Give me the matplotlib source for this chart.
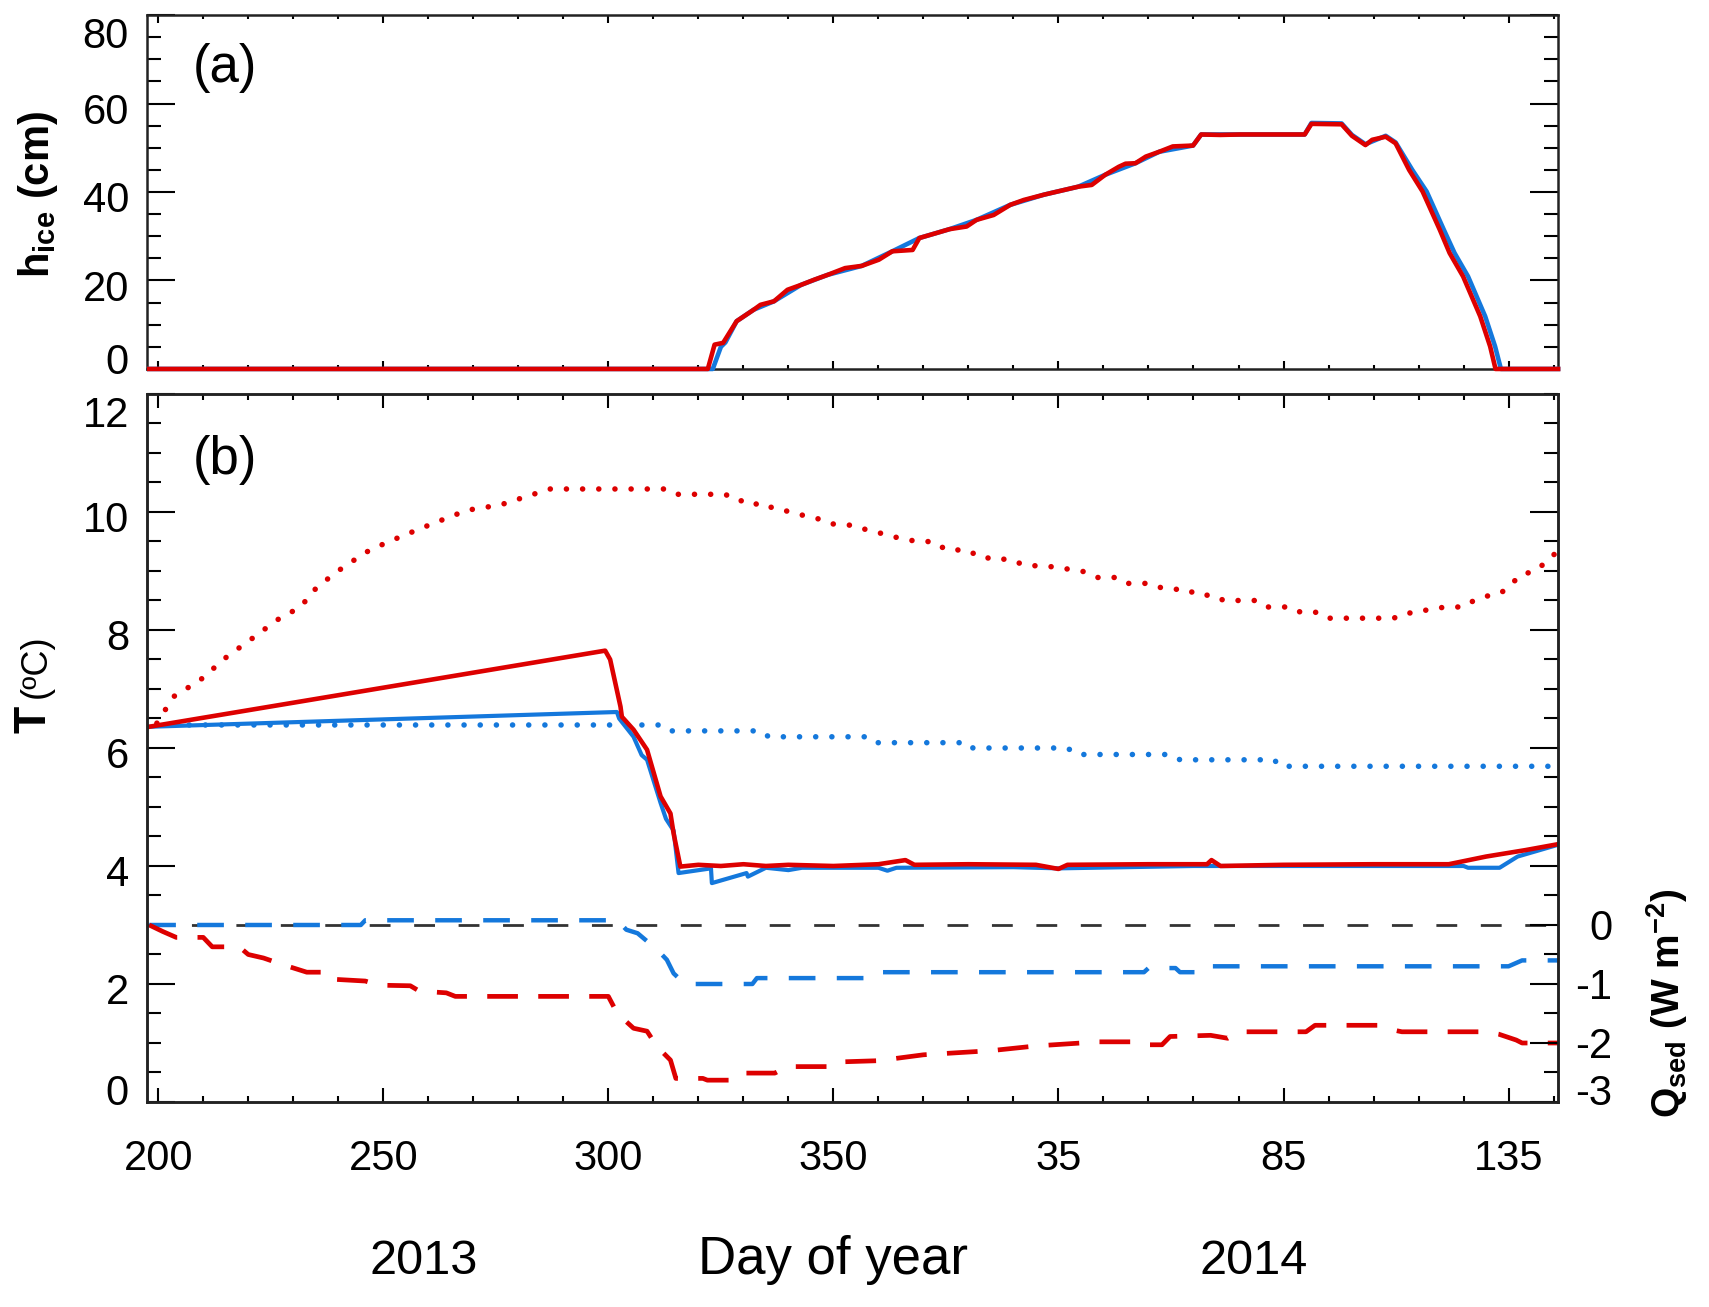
import numpy as np
import matplotlib
matplotlib.use("agg")
from matplotlib import pyplot as plt
from matplotlib.ticker import FixedLocator, MultipleLocator
from matplotlib.transforms import ScaledTranslation

plt.rcParams['font.family'] = ['Liberation Sans', 'DejaVu Sans']
plt.rcParams['mathtext.fontset'] = 'custom'
plt.rcParams['mathtext.rm'] = 'Liberation Sans'
plt.rcParams['mathtext.bf'] = 'Liberation Sans:bold'
plt.rcParams['mathtext.it'] = 'Liberation Sans:italic'

RED = '#DD0000'
BLUE = '#1478DC'

# day axis: continuous days since 1 Jan 2013 (2014 days = doy + 365)
x_ticks = [200, 250, 300, 350, 400, 450, 500]
x_labels = ['200', '250', '300', '350', '35', '85', '135']

# (a) ice thickness (cm)
ice_red_day = [198, 322.1, 323.6, 325.5, 328.5, 332.3, 333.8, 336.8, 339.8, 342.8, 345.8, 348.8,
               352.6, 356.3, 360.1, 363.1, 367.6, 369.1, 372.8, 375.8, 379.6, 381.8, 385.6, 389.3,
               392.3, 396.8, 400.6, 404.4, 407.4, 410.4, 413.4, 414.9, 417.1, 419.4, 422.4, 425.4,
               429.9, 431.7, 435.9, 440.4, 454.7, 456.2, 462.9, 465.2, 468.2, 469.7, 472.7, 474.9,
               477.9, 480.9, 484.7, 486.9, 489.9, 493.7, 495.9, 497.1, 511]
ice_red = [0, 0, 5.5, 5.9, 10.8, 13.4, 14.5, 15.3, 17.9, 19.0, 20.2, 21.3,
           22.8, 23.3, 24.7, 26.6, 26.9, 29.6, 30.7, 31.6, 32.2, 33.7, 34.8, 37.1,
           38.2, 39.4, 40.3, 41.2, 41.6, 43.9, 45.7, 46.4, 46.5, 48.0, 49.1, 50.3,
           50.5, 53.0, 52.9, 53.0, 53.0, 55.4, 55.3, 52.7, 50.6, 51.8, 52.5, 51.0,
           45.0, 40.1, 31.5, 26.2, 20.9, 11.9, 5.1, 0, 0]
ice_blue_day = [198, 323.2, 325.0, 326.0, 328.5, 332.3, 336.8, 342.8, 348.8, 356.3, 363.1, 369.1,
                375.8, 381.8, 389.3, 396.8, 404.4, 410.4, 417.1, 422.4, 429.9, 431.7, 454.7, 456.2,
                462.9, 465.2, 468.2, 472.7, 474.9, 478.6, 481.8, 485.6, 488.0, 491.0, 494.8, 497.0,
                498.3, 511]
ice_blue = [0, 0, 5.0, 6.0, 10.8, 13.4, 15.3, 19.0, 21.3, 23.3, 26.6, 29.6,
            31.6, 33.7, 37.1, 39.4, 41.2, 43.9, 46.5, 49.1, 50.5, 53.0, 53.0, 55.6,
            55.5, 52.9, 50.8, 52.7, 51.2, 45.0, 40.1, 31.5, 26.2, 20.9, 11.9, 5.1,
            0, 0]

# (b) temperatures (deg C)
t_red_day = [198, 299.3, 300.4, 302.7, 303.0, 305.6, 308.6, 311.6, 313.8, 314.5, 316.0, 320, 325,
             330, 335, 340, 350, 360, 366, 368, 380, 395, 400, 402, 420, 433, 434, 436, 450, 470,
             486.7, 495, 503.8, 511]
t_red = [6.36, 7.65, 7.5, 6.7, 6.53, 6.31, 5.97, 5.18, 4.89, 4.55, 3.99, 4.02, 4.0,
         4.03, 4.0, 4.02, 4.0, 4.03, 4.1, 4.02, 4.03, 4.02, 3.95, 4.02, 4.03, 4.03, 4.1, 4.0, 4.02, 4.03,
         4.03, 4.16, 4.27, 4.37]
t_blue_day = [198, 301.9, 302.4, 305.6, 307.4, 308.6, 311.6, 312.8, 314.5, 315.6, 322.8, 323.0,
              330.7, 331.0, 335, 340, 343, 360, 362, 364, 390, 400, 430, 490, 491, 498, 502, 511]
t_blue = [6.36, 6.61, 6.5, 6.19, 5.88, 5.8, 5.07, 4.8, 4.6, 3.88, 3.96, 3.71,
          3.88, 3.82, 3.97, 3.93, 3.97, 3.97, 3.92, 3.97, 3.98, 3.96, 4.0, 4.0, 3.97, 3.97, 4.16, 4.36]
tb_red_day = [199.7, 203.4, 209.3, 215.3, 220.4, 226.4, 231.6, 235.3, 241.2, 247.1, 253.8, 261.2,
              268.6, 276, 287, 313, 315.3, 326, 328.4, 332, 333.7, 337.2, 340.6, 343.5, 346.4,
              349.4, 354.9, 357.6, 360.5, 363.4, 366.4, 368.8, 371, 373, 376.7, 378.9, 382.6,
              384.8, 389.3, 392.3, 399, 405.6, 408.6, 413, 415.3, 420, 422, 424.9, 428.6, 430.8,
              434.5, 436.7, 444.2, 446.4, 451.6, 453.8, 457.5, 459.7, 474.5, 476.7, 480, 482.7,
              486.4, 490, 492.3, 494.9, 498.2, 500.8, 502.7, 505.6, 507.5, 510.4]
tb_red = [6.42, 6.87, 7.15, 7.55, 7.83, 8.17, 8.39, 8.73, 9.07, 9.36, 9.58, 9.81,
          10.03, 10.12, 10.39, 10.39, 10.3, 10.3, 10.19, 10.19, 10.08, 10.08, 9.99, 9.94, 9.89,
          9.8, 9.77, 9.69, 9.64, 9.58, 9.53, 9.5, 9.5, 9.4, 9.4, 9.3, 9.3,
          9.2, 9.2, 9.1, 9.07, 8.99, 8.89, 8.89, 8.79, 8.79, 8.73, 8.69, 8.69, 8.59,
          8.59, 8.5, 8.5, 8.39, 8.39, 8.3, 8.3, 8.2, 8.2, 8.28, 8.3, 8.36,
          8.39, 8.39, 8.5, 8.57, 8.62, 8.79, 8.94, 8.99, 9.1, 9.3]
tb_blue_day = [199.7, 312, 313.8, 334, 335.6, 357, 358.6, 380, 381, 402, 404, 425, 427, 448, 449, 511]
tb_blue = [6.39, 6.39, 6.29, 6.29, 6.19, 6.19, 6.09, 6.09, 6.0, 6.0, 5.89, 5.89, 5.8, 5.8, 5.69, 5.69]

# sediment heat flux (W m-2), right axis
q_blue_day = [198, 245, 246, 302, 304, 306.5, 309, 311.5, 313, 314.5, 317, 332, 333, 358, 360,
              419, 420, 426, 427, 433, 434, 500, 503, 511]
q_blue = [0.0, 0.0, 0.08, 0.08, -0.08, -0.14, -0.3, -0.47, -0.59, -0.82, -1.0, -1.0, -0.9, -0.9, -0.8,
          -0.8, -0.73, -0.73, -0.8, -0.8, -0.7, -0.7, -0.6, -0.6]
q_red_day = [198, 201, 204, 210, 212, 218, 220, 223.4, 228, 233, 238, 239, 246, 249, 256, 258, 264,
             266, 300, 302, 305.6, 308.6, 310.8, 313.8, 315, 321, 322, 327, 329, 337, 339.7, 350,
             351.6, 360, 370, 385, 395, 409, 418, 420, 423, 424.8, 433.8, 437.6, 440.3, 455, 457,
             471, 474.4, 476.3, 495, 497.8, 501.7, 503, 511]
q_red = [0.0, -0.11, -0.21, -0.21, -0.37, -0.37, -0.5, -0.56, -0.68, -0.8, -0.8, -0.92, -0.95,
         -1.02, -1.03, -1.12, -1.15, -1.21, -1.21, -1.5, -1.75, -1.8, -2.06, -2.29, -2.6, -2.6,
         -2.63, -2.63, -2.51, -2.51, -2.4, -2.4, -2.32, -2.3, -2.2, -2.13, -2.05, -1.98, -1.98,
         -2.03, -2.03, -1.89, -1.87, -1.92, -1.81, -1.81, -1.7, -1.7, -1.78, -1.81, -1.81, -1.85,
         -1.95, -2.0, -2.0]

fig = plt.figure(figsize=(17.09, 13.07), dpi=100)
axa = fig.add_axes([0.0860, 0.7177, 0.8257, 0.2708])
axb = fig.add_axes([0.0860, 0.15685, 0.8257, 0.5417])

xlim = (197.5, 511)
for ax in (axa, axb):
    ax.set_xlim(*xlim)
    for s in ax.spines.values():
        s.set_linewidth(1.8)
        s.set_color('#222222')
    ax.xaxis.set_major_locator(FixedLocator(x_ticks))
    ax.xaxis.set_minor_locator(MultipleLocator(10))

# panel (a)
axa.plot(ice_blue_day, ice_blue, color=BLUE, lw=3.3, clip_on=False, zorder=3)
axa.plot(ice_red_day, ice_red, color=RED, lw=3.3, clip_on=False, zorder=4)
axa.set_ylim(0, 80)
axa.yaxis.set_major_locator(MultipleLocator(20))
axa.yaxis.set_minor_locator(MultipleLocator(5))
axa.set_xticklabels([])
axa.tick_params(axis='x', which='major', direction='in', length=6, width=1.5, top=True)
axa.tick_params(axis='x', which='minor', direction='in', length=3, width=1.5, top=True)
axa.tick_params(axis='y', which='major', direction='in', length=20, width=1.5, right=True,
                labelsize=30, pad=13)
axa.tick_params(axis='y', which='minor', direction='in', length=10, width=1.5, right=True)
axa.text(0.055, 0.85, '(a)', transform=axa.transAxes, fontsize=38, ha='center', va='center')

# panel (b)
axb.plot(tb_blue_day, tb_blue, color=BLUE, lw=4.0, dashes=(0.01, 2.9), dash_capstyle='round')
axb.plot(tb_red_day, tb_red, color=RED, lw=4.0, dashes=(0.01, 2.9), dash_capstyle='round')
axb.axhline(3.0, color='#333333', lw=2.0, dashes=(7.5, 8.5))
axb.plot(q_blue_day, np.array(q_blue) + 3.0, color=BLUE, lw=3.2, dashes=(6.0, 4.8))
axb.plot(q_red_day, np.array(q_red) + 3.0, color=RED, lw=3.4, dashes=(6.5, 4.3))
axb.plot(t_blue_day, t_blue, color=BLUE, lw=3.0)
axb.plot(t_red_day, t_red, color=RED, lw=3.3)
axb.set_ylim(0, 12)
axb.yaxis.set_major_locator(MultipleLocator(2))
axb.yaxis.set_minor_locator(MultipleLocator(0.5))
axb.set_xticklabels(x_labels)
axb.tick_params(axis='x', which='major', direction='in', length=10, width=1.5, top=True,
                labelsize=30, pad=27)
axb.tick_params(axis='x', which='minor', direction='in', length=4.5, width=1.5, top=True)
axb.tick_params(axis='y', which='major', direction='in', length=20, width=1.5, right=False,
                labelsize=30, pad=13)
axb.tick_params(axis='y', which='minor', direction='in', length=10, width=1.5, right=False)
axb.text(0.055, 0.907, '(b)', transform=axb.transAxes, fontsize=38, ha='center', va='center')

# right axis for Q_sed (shares the T scale shifted by 3)
axq = axb.twinx()
axq.set_ylim(-3, 9)
axq.yaxis.set_major_locator(FixedLocator([-3, -2, -1, 0, 1, 3, 5, 7]))
axq.yaxis.set_minor_locator(MultipleLocator(0.5))
axq.set_yticklabels(['-3', '-2', '-1', '0', '', '', '', ''])
axq.tick_params(axis='y', which='major', direction='in', length=20, width=1.5,
                labelsize=30, pad=39)
axq.tick_params(axis='y', which='minor', direction='in', length=10, width=1.5)
for s in axq.spines.values():
    s.set_linewidth(1.8)
    s.set_color('#222222')

# axis titles
fig.text(0.0222, 0.8508, r'$\mathbf{h_{ice}\ (cm)}$', rotation=90, fontsize=30,
         ha='center', va='center')
fig.text(0.0200, 0.4499, 'T', rotation=90, fontsize=32, fontweight='bold',
         ha='center', va='center')
fig.text(0.0215, 0.4905, '(\u00baC)', rotation=90, fontsize=26,
         ha='center', va='center')
fig.text(0.9754, 0.2326, r'$\mathbf{Q_{sed}\ (W\ m^{-2})}$', rotation=90, fontsize=28,
         ha='center', va='center')
fig.text(0.4874, 0.0360, 'Day of year', fontsize=38, ha='center', va='center')
fig.text(0.2481, 0.0345, '2013', fontsize=35, ha='center', va='center')
fig.text(0.7338, 0.0345, '2014', fontsize=35, ha='center', va='center')

# build the ticks first, then nudge the end labels inside the frame like the original
fig.canvas.draw()


def nudge(ax, shifts):
    for tick in ax.yaxis.get_major_ticks():
        for lab in (tick.label1, tick.label2):
            dy = shifts.get(round(tick.get_loc(), 3), -5)
            lab.set_transform(lab.get_transform() + ScaledTranslation(0, dy / 100., fig.dpi_scale_trans))


nudge(axa, {0.0: 10, 80.0: -17})
nudge(axb, {0.0: 12, 12.0: -18})
nudge(axq, {-3.0: 12, -2.0: 0, -1.0: 0, 0.0: 0})
for tick in axq.yaxis.get_major_ticks():
    tick.label2.set_horizontalalignment('right')

fig.savefig('out.png', dpi=100)
